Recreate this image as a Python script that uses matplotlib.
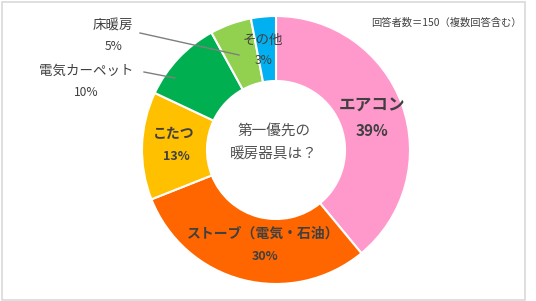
import matplotlib
matplotlib.use("Agg")
import matplotlib.pyplot as plt
from matplotlib.patches import Rectangle

plt.rcParams['font.family'] = ['Noto Sans CJK JP', 'DejaVu Sans']

# data
labels = ['エアコン', 'ストーブ（電気・石油）', 'こたつ', '電気カーペット', '床暖房', 'その他']
shares = [39, 30, 13, 10, 5, 3]
colors = ['#FF99CC', '#FF6600', '#FFC000', '#00B050', '#92D050', '#00B0F0']
note = '回答者数＝150（複数回答含む）'
center_text = '第一優先の\n暖房器具は？'

W, H = 536, 301
fig = plt.figure(figsize=(W / 100, H / 100), dpi=100)
fig.patch.set_facecolor('white')

# chart border
fig.add_artist(Rectangle((1.5 / W, 1.5 / H), (525 - 1.5) / W, (299 - 1.5) / H,
                         transform=fig.transFigure, fill=False,
                         edgecolor='#d9d9d9', linewidth=1.2))

def px(x, y):
    return x / W, 1 - y / H

cx, cy, r = 276, 150, 134
ax = fig.add_axes([(cx - r) / W, 1 - (cy + r) / H, 2 * r / W, 2 * r / H])
ax.pie(shares, colors=colors, startangle=90, counterclock=False, radius=1,
       wedgeprops=dict(width=0.485, edgecolor='white', linewidth=1.5))
ax.set_xlim(-1, 1)
ax.set_ylim(-1, 1)
ax.set_aspect('auto')
ax.axis('off')

txt = '#404040'
# label positions (pixels): name, percent
pos = {
    'エアコン': ((372, 105), (372, 131), 12, 'bold'),
    'ストーブ（電気・石油）': ((263, 234), (265, 256), 10, 'bold'),
    'こたつ': ((174, 134), (176, 157), 10, 'bold'),
    '電気カーペット': ((86, 71), (86, 93), 9.7, 'normal'),
    '床暖房': ((113, 26), (114, 47), 9.7, 'normal'),
    'その他': ((263, 40), (264, 61), 9.7, 'normal'),
}
for lab, val in zip(labels, shares):
    (lx, ly), (vx, vy), fs, fw = pos[lab]
    fig.text(*px(lx, ly), lab, ha='center', va='center', fontsize=fs,
             color=txt, fontweight=fw)
    fig.text(*px(vx, vy), f'{val}%', ha='center', va='center', fontsize=fs - 1,
             color=txt, fontweight=fw)

# leader lines
for (x0, y0), (x1, y1) in [((144, 72), (175, 78)), ((140, 33), (239, 55))]:
    fig.add_artist(plt.Line2D([x0 / W, x1 / W], [1 - y0 / H, 1 - y1 / H],
                              transform=fig.transFigure, color='#7f7f7f', lw=1))

fig.text(*px(274, 143), center_text, ha='center', va='center', fontsize=10.5,
         color='#505050', linespacing=1.9)
fig.text(*px(522, 23), note, ha='right', va='center', fontsize=7.4, color='#404040')

fig.savefig('out.png', dpi=100)
